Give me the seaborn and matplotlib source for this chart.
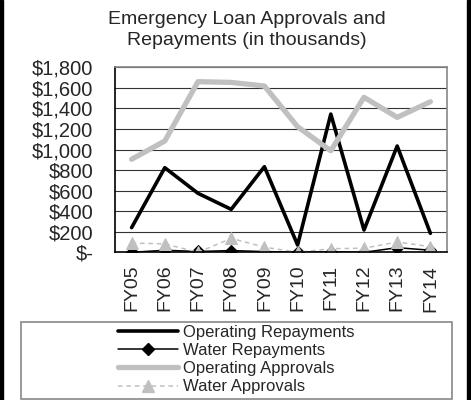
import numpy as np
import pandas as pd
import matplotlib
matplotlib.use("Agg")
import matplotlib.pyplot as plt
import seaborn as sns
from matplotlib.patches import Rectangle
from matplotlib.lines import Line2D
from matplotlib.ticker import FuncFormatter, FixedLocator

categories = ["FY05", "FY06", "FY07", "FY08", "FY09", "FY10", "FY11", "FY12", "FY13", "FY14"]
operating_repayments = [240, 823, 574, 418, 833, 71, 1345, 217, 1034, 185]
water_repayments = [0, 20, 8, 17, 7, 2, 5, 0, 45, 20]
operating_approvals = [905, 1083, 1660, 1653, 1618, 1222, 988, 1508, 1313, 1465]
water_approvals = [90, 82, 0, 135, 50, 0, 35, 40, 100, 55]
yticks = [0, 200, 400, 600, 800, 1000, 1200, 1400, 1600, 1800]
title = "Emergency Loan Approvals and\nRepayments (in thousands)"

sns.set_style("white")
plt.rcParams["font.family"] = ["Liberation Sans", "DejaVu Sans"]

W, H = 471, 400
fig = plt.figure(figsize=(W / 100, H / 100), dpi=100)
ax = fig.add_axes([115 / W, (H - 252.3) / H, (447 - 115) / W, (252.3 - 67.3) / H])

x = np.arange(len(categories))
series = [
    ("Operating Repayments", operating_repayments, dict(color="black", lw=2.6, marker=None)),
    ("Water Repayments", water_repayments, dict(color="black", lw=1.1, marker="D", markersize=6.5,
                                                markeredgecolor="black")),
    ("Operating Approvals", operating_approvals, dict(color="#c0c0c0", lw=3.8, marker=None)),
    ("Water Approvals", water_approvals, dict(color="#c0c0c0", lw=1.1, linestyle=(0, (3, 2.5)), marker="^",
                                              markersize=8, markeredgecolor="#c0c0c0")),
]
for name, vals, kw in series:
    sns.lineplot(x=x, y=vals, ax=ax, legend=False, **kw)

ax.set_xlim(-0.5, len(categories) - 0.5)
ax.set_ylim(0, 1800)
ax.yaxis.set_major_locator(FixedLocator(yticks))
ax.yaxis.set_major_formatter(FuncFormatter(lambda v, p: "$-" if v == 0 else f"${int(v):,}"))
ax.set_xticks(x)
ax.set_xticklabels(categories, rotation=90)
ax.set_xticks(np.arange(-0.5, len(categories), 1.0), minor=True)
ax.tick_params(axis="x", which="major", length=0, pad=9, labelsize=14)
ax.tick_params(axis="x", which="minor", length=5, width=1, color="black", direction="out")
ax.tick_params(axis="y", length=4, width=1, color="black", direction="out", labelsize=14.5, pad=11.5)
ax.set_xlabel("")
ax.set_ylabel("")
ax.grid(axis="y", color="#333333", lw=0.8)
ax.set_axisbelow(True)
for s in ["left", "bottom"]:
    ax.spines[s].set_color("black")
    ax.spines[s].set_linewidth(1.2)
for s in ["top", "right"]:
    ax.spines[s].set_color("#888888")
    ax.spines[s].set_linewidth(1.2)

fig.text(247 / W, 1 - 30 / H, title, ha="center", va="center", fontsize=14, linespacing=1.33)

# legend box
fig.patches.append(Rectangle((21 / W, (H - 398.5) / H), (452 - 21) / W, (398.5 - 322) / H,
                             transform=fig.transFigure, fill=False, edgecolor="#888888", lw=1.2))
handles = [Line2D([], [], **kw) for _, _, kw in series]
labels = [name for name, _, _ in series]
fig.legend(handles, labels, loc="center", bbox_to_anchor=(236 / W, (H - 359.5) / H), frameon=False,
           fontsize=12, handlelength=3.6, labelspacing=0.2, handletextpad=0.3,
           borderpad=0, borderaxespad=0)

# figure side borders
fig.patches.append(Rectangle((0, 0), 3 / W, 1, transform=fig.transFigure, color="black"))
fig.patches.append(Rectangle((467 / W, 0), 4 / W, 1, transform=fig.transFigure, color="black"))

fig.savefig("out.png", dpi=100)
